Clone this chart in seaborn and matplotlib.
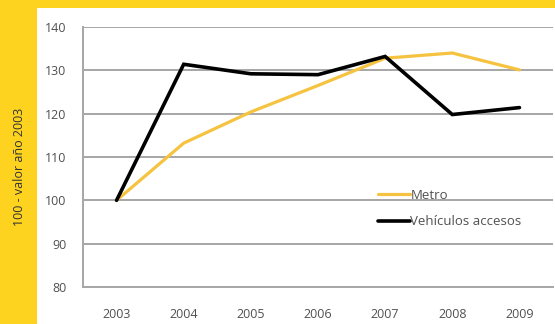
import matplotlib
matplotlib.use("Agg")
import matplotlib.pyplot as plt
import matplotlib.patches as mpatches
from matplotlib.lines import Line2D
import seaborn as sns
import pandas as pd

years = ["2003", "2004", "2005", "2006", "2007", "2008", "2009"]
metro = [100, 113.2, 120.4, 126.5, 132.8, 134.0, 130.1]
vehiculos = [100, 131.4, 129.2, 129.0, 133.2, 119.8, 121.4]
series_names = ["Metro", "Vehículos accesos"]
y_ticks = [80, 90, 100, 110, 120, 130, 140]

YELLOW = "#FDD31F"
GOLD = "#F6C340"
GRID = "#A6A6A6"
TEXT = "#505050"

df = pd.DataFrame({
    "pos": list(range(len(years))) * 2,
    "valor": metro + vehiculos,
    "serie": [series_names[0]] * len(years) + [series_names[1]] * len(years),
})

sns.set_style("white")
plt.rcParams["font.family"] = ["Open Sans", "DejaVu Sans"]

fig = plt.figure(figsize=(5.55, 3.24), dpi=100)
fig.patch.set_facecolor(YELLOW)
# white panel behind the chart
fig.add_artist(mpatches.Rectangle((37 / 555, 0), 1, (324 - 8) / 324,
                                  transform=fig.transFigure, facecolor="white",
                                  edgecolor="none", zorder=0))

ax = fig.add_axes([83 / 555, (324 - 287) / 324, (553 - 83) / 555, (287 - 27) / 324])
ax.set_facecolor("none")

sns.lineplot(data=df, x="pos", y="valor", hue="serie", hue_order=series_names,
             palette={series_names[0]: GOLD, series_names[1]: "black"},
             ax=ax, legend=False, zorder=3)
ax.lines[0].set_linewidth(2.3)
ax.lines[1].set_linewidth(2.6)
for ln in ax.lines:
    ln.set_solid_joinstyle("miter")

ax.set_xlim(-0.5, len(years) - 0.5)
ax.set_ylim(80, 140)
ax.set_yticks(y_ticks)
ax.set_yticklabels([str(v) for v in y_ticks])
ax.set_xticks(range(len(years)))
ax.set_xticklabels(years)
ax.set_xticks([i - 0.5 for i in range(len(years) + 1)], minor=True)
ax.yaxis.grid(True, color=GRID, linewidth=1.4, zorder=1)
ax.set_axisbelow(True)
ax.set_xlabel("")
ax.set_ylabel("")

for side in ["top", "right"]:
    ax.spines[side].set_visible(False)
for side in ["left", "bottom"]:
    ax.spines[side].set_color(GRID)
    ax.spines[side].set_linewidth(1.4)

ax.tick_params(axis="x", which="major", length=0, pad=15, labelsize=9, labelcolor=TEXT)
ax.tick_params(axis="x", which="minor", length=4, width=1.2, color=GRID, direction="out")
ax.tick_params(axis="y", which="major", length=4, width=1.2, color=GRID, pad=8,
               labelsize=9, labelcolor=TEXT)

handles = [Line2D([0], [0], color=GOLD, lw=2.3),
           Line2D([0], [0], color="black", lw=2.6)]
ax.legend(handles, series_names, loc="center left", bbox_to_anchor=(0.628, 0.302),
          frameon=False, borderpad=0, borderaxespad=0, handlelength=2.4,
          handletextpad=0.05, labelspacing=1.05, fontsize=9.5, labelcolor=TEXT)

fig.text(20 / 555, 1 - 167 / 324, "100 - valor año 2003", rotation=90,
         ha="center", va="center", fontsize=9, color="#333333")

fig.savefig("out.png", dpi=100, facecolor=fig.get_facecolor())
